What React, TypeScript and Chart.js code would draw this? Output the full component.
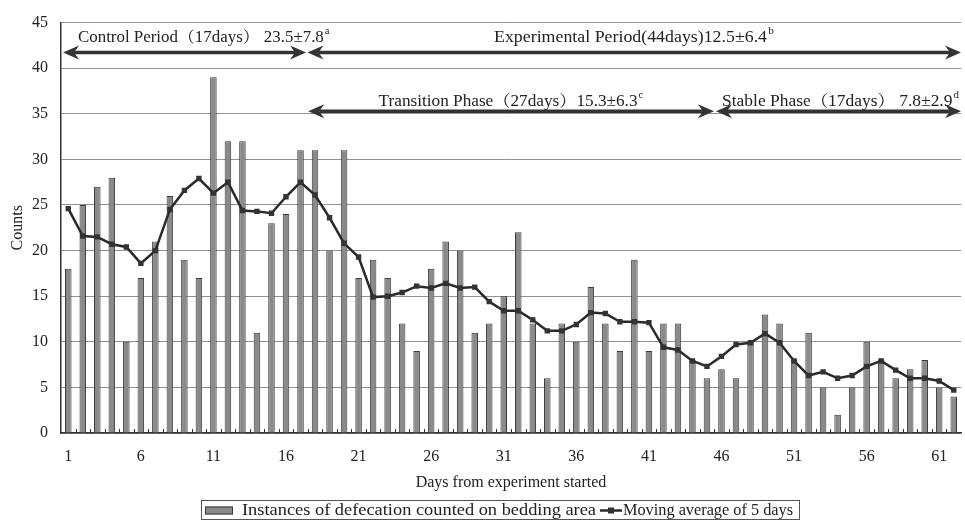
import React, { useEffect, useRef } from "react";
import { Chart, registerables } from "chart.js";

Chart.register(...registerables);

const days: number[] = Array.from({ length: 62 }, (_, i) => i + 1);

const counts: number[] = [
  18, 25, 27, 28, 10, 17, 21, 26, 19, 17,
  39, 32, 32, 11, 23, 24, 31, 31, 20, 31,
  17, 19, 17, 12, 9, 18, 21, 20, 11, 12,
  15, 22, 12, 6, 12, 10, 16, 12, 9, 19,
  9, 12, 12, 8, 6, 7, 6, 10, 13, 12,
  8, 11, 5, 2, 5, 10, 8, 6, 7, 8, 5, 4,
];

const movingAvg: number[] = [
  24.6, 21.6, 21.5, 20.7, 20.4, 18.6, 20.0, 24.5, 26.6, 27.9,
  26.3, 27.5, 24.4, 24.3, 24.1, 25.9, 27.5, 26.1, 23.6, 20.8,
  19.3, 14.9, 15.0, 15.4, 16.1, 15.9, 16.4, 15.9, 16.0, 14.4,
  13.4, 13.4, 12.4, 11.2, 11.2, 11.9, 13.2, 13.1, 12.2, 12.2,
  12.1, 9.4, 9.1, 7.9, 7.3, 8.4, 9.7, 9.9, 10.9, 9.9,
  7.9, 6.3, 6.7, 6.0, 6.3, 7.3, 7.9, 6.9, 6.0, 6.0,
  5.7, 4.7,
];

const xTickValues: number[] = [1, 6, 11, 16, 21, 26, 31, 36, 41, 46, 51, 56, 61];

const arrowSpans = [
  { from: 0.64, to: 17.38, y: 41.73 },
  { from: 17.48, to: 62.5, y: 41.73 },
  { from: 17.53, to: 45.48, y: 35.27 },
  { from: 45.62, to: 62.5, y: 35.27 },
];

const periodLabels = [
  { start: 1.67, end: 19.0, y: 43.36, text: "Control Period（17days） 23.5±7.8", sup: "a" },
  { start: 30.33, end: 49.6, y: 43.36, text: "Experimental Period(44days)12.5±6.4", sup: "b" },
  { start: 22.38, end: 40.62, y: 36.36, text: "Transition Phase（27days）15.3±6.3", sup: "c" },
  { start: 46.04, end: 62.36, y: 36.36, text: "Stable Phase（17days） 7.8±2.9", sup: "d" },
];

const barLabel = "Instances of defecation counted on bedding area";
const lineLabel = "Moving average of 5 days";

const FAMILY = '"Liberation Serif", "Noto Serif CJK JP", "Noto Sans CJK JP", serif';
const BAR_FILL = "#8a8a8a";
const BAR_EDGE = "#3a3a3a";
const INK = "#2a2a2a";

function fitText(
  ctx: CanvasRenderingContext2D,
  text: string,
  sup: string,
  x0: number,
  x1: number,
  yMid: number,
  size: number
) {
  const font = `${size}px ${FAMILY}`;
  const supFont = `${Math.round(size * 0.62)}px ${FAMILY}`;
  ctx.font = font;
  const w1 = ctx.measureText(text).width;
  ctx.font = supFont;
  const w2 = sup ? ctx.measureText(sup).width + 1 : 0;
  const total = w1 + w2;
  let s = (x1 - x0) / total;
  s = Math.max(0.8, Math.min(1.2, s));
  ctx.save();
  ctx.translate(x0, yMid);
  ctx.scale(s, 1);
  ctx.textBaseline = "middle";
  ctx.textAlign = "left";
  ctx.fillStyle = "#222";
  ctx.font = font;
  ctx.fillText(text, 0, 0);
  if (sup) {
    ctx.font = supFont;
    ctx.fillText(sup, w1 + 1, -size * 0.4);
  }
  ctx.restore();
}

function drawArrow(ctx: CanvasRenderingContext2D, x0: number, x1: number, yy: number) {
  const L = 16;
  const H = 7;
  const notch = 5;
  ctx.save();
  ctx.strokeStyle = "#333";
  ctx.fillStyle = "#333";
  ctx.lineWidth = 3.5;
  ctx.beginPath();
  ctx.moveTo(x0 + L - notch, yy);
  ctx.lineTo(x1 - L + notch, yy);
  ctx.stroke();
  ctx.beginPath();
  ctx.moveTo(x0, yy);
  ctx.lineTo(x0 + L, yy - H);
  ctx.lineTo(x0 + L - notch, yy);
  ctx.lineTo(x0 + L, yy + H);
  ctx.closePath();
  ctx.fill();
  ctx.beginPath();
  ctx.moveTo(x1, yy);
  ctx.lineTo(x1 - L, yy - H);
  ctx.lineTo(x1 - L + notch, yy);
  ctx.lineTo(x1 - L, yy + H);
  ctx.closePath();
  ctx.fill();
  ctx.restore();
}

const periodsPlugin = {
  id: "periods",
  afterDatasetsDraw(chart: any) {
    const { ctx } = chart;
    const x = chart.scales.x;
    const y = chart.scales.y;
    ctx.save();
    const base = y.getPixelForValue(0);
    ctx.strokeStyle = "#333";
    ctx.lineWidth = 1;
    for (let i = 1; i < days.length; i++) {
      const px = Math.round(x.getPixelForValue(days[i - 1] + 0.5)) + 0.5;
      ctx.beginPath();
      ctx.moveTo(px, base);
      ctx.lineTo(px, base - 4);
      ctx.stroke();
    }
    for (const a of arrowSpans) {
      drawArrow(ctx, x.getPixelForValue(a.from), x.getPixelForValue(a.to), y.getPixelForValue(a.y));
    }
    for (const l of periodLabels) {
      fitText(ctx, l.text, l.sup, x.getPixelForValue(l.start), x.getPixelForValue(l.end), y.getPixelForValue(l.y), 16);
    }
    ctx.restore();
  },
  afterDraw(chart: any) {
    const { ctx } = chart;
    ctx.save();
    const bx0 = 201, bx1 = 799, by0 = 500, by1 = 519;
    ctx.strokeStyle = "#555";
    ctx.lineWidth = 1;
    ctx.strokeRect(bx0 + 0.5, by0 + 0.5, bx1 - bx0, by1 - by0);
    const mid = (by0 + by1) / 2 + 1;
    ctx.fillStyle = BAR_FILL;
    ctx.fillRect(205, mid - 4, 28, 8);
    ctx.strokeStyle = BAR_EDGE;
    ctx.strokeRect(205.5, mid - 3.5, 27, 7);
    fitText(ctx, barLabel, "", 242, 596, mid, 16);
    ctx.strokeStyle = INK;
    ctx.lineWidth = 2.5;
    ctx.beginPath();
    ctx.moveTo(600, mid);
    ctx.lineTo(622, mid);
    ctx.stroke();
    ctx.fillStyle = "#333";
    ctx.fillRect(608, mid - 3, 6, 6);
    fitText(ctx, lineLabel, "", 623, 793, mid, 16);
    ctx.restore();
  },
};

export default function App() {
  const canvasRef = useRef<HTMLCanvasElement | null>(null);

  useEffect(() => {
    document.body.style.margin = "0";
    const canvas = canvasRef.current;
    if (!canvas) return;
    const chart = new Chart(canvas, {
      type: "bar",
      data: {
        datasets: [
          {
            type: "line",
            label: lineLabel,
            data: days.map((d, i) => ({ x: d, y: movingAvg[i] })),
            borderColor: INK,
            borderWidth: 2.5,
            pointStyle: "rect",
            pointRadius: 3.8,
            pointBackgroundColor: "#333",
            pointBorderColor: "#333",
            pointBorderWidth: 0,
            tension: 0,
            order: 0,
          } as any,
          {
            type: "bar",
            label: barLabel,
            data: days.map((d, i) => ({ x: d, y: counts[i] })),
            backgroundColor: BAR_FILL,
            borderColor: BAR_EDGE,
            borderWidth: 1,
            barPercentage: 0.45,
            categoryPercentage: 1,
            order: 1,
          } as any,
        ],
      },
      options: {
        responsive: false,
        animation: false,
        layout: { padding: { left: 0, right: 0, top: 20, bottom: 20 } },
        plugins: {
          legend: { display: false },
          tooltip: { enabled: false },
          title: { display: false },
        },
        scales: {
          x: {
            type: "linear",
            min: 0.5,
            max: 62.5,
            offset: false,
            grid: { display: false, drawTicks: false },
            border: { display: true, color: "#333", width: 1.5 },
            afterBuildTicks: (scale: any) => {
              scale.ticks = xTickValues.map((v) => ({ value: v }));
            },
            afterFit: (scale: any) => {
              scale.height = 67;
            },
            ticks: {
              autoSkip: false,
              maxRotation: 0,
              padding: 14,
              color: "#222",
              font: { family: FAMILY, size: 16 },
              callback: (v: any) => String(v),
            },
            title: {
              display: true,
              text: "Days from experiment started",
              color: "#222",
              font: { family: FAMILY, size: 16 },
              padding: { top: 0, bottom: 8 },
            },
          },
          y: {
            min: 0,
            max: 45,
            grid: { color: "#929292", lineWidth: 1, drawTicks: false },
            border: { display: true, color: "#333", width: 1.5 },
            afterFit: (scale: any) => {
              scale.width = 61;
            },
            ticks: {
              stepSize: 5,
              padding: 13,
              color: "#222",
              font: { family: FAMILY, size: 16 },
            },
            title: {
              display: true,
              text: "Counts",
              color: "#222",
              font: { family: FAMILY, size: 16 },
              padding: { top: 8, bottom: 0 },
            },
          },
        },
      },
      plugins: [periodsPlugin],
    });
    return () => chart.destroy();
  }, []);

  return (
    <div style={{ width: 965, height: 520, background: "#fff" }}>
      <canvas ref={canvasRef} width={965} height={520} style={{ display: "block" }} />
    </div>
  );
}
